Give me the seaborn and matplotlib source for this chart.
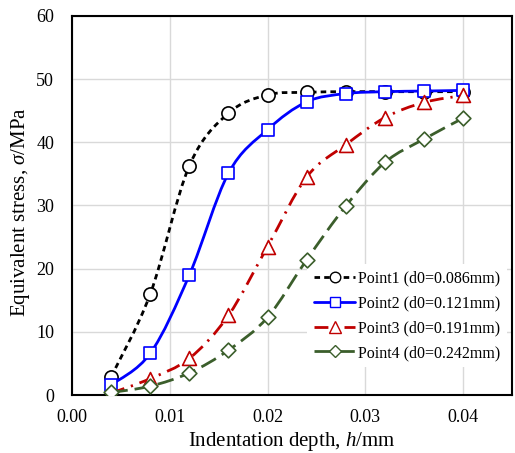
import numpy as np
import matplotlib
matplotlib.use('Agg')
import matplotlib.pyplot as plt
from matplotlib.path import Path
from matplotlib.patches import PathPatch
from matplotlib.lines import Line2D
import seaborn as sns

depth = [0.004, 0.008, 0.012, 0.016, 0.020, 0.024, 0.028, 0.032, 0.036, 0.040]
point1 = [2.9, 16.0, 36.3, 44.6, 47.5, 47.9, 48.0, 48.0, 48.0, 48.0]
point2 = [1.6, 6.6, 19.0, 35.1, 42.0, 46.4, 47.7, 48.0, 48.1, 48.2]
point3 = [0.3, 2.6, 5.8, 12.6, 23.5, 34.5, 39.6, 43.9, 46.3, 47.4]
point4 = [0.4, 1.4, 3.5, 7.1, 12.3, 21.4, 29.9, 36.8, 40.5, 43.8]
labels = ['Point1 (d0=0.086mm)', 'Point2 (d0=0.121mm)',
          'Point3 (d0=0.191mm)', 'Point4 (d0=0.242mm)']

sns.set_theme(style='whitegrid')
plt.rcParams['font.family'] = ['Liberation Serif', 'DejaVu Serif']
plt.rcParams['mathtext.fontset'] = 'custom'
plt.rcParams['mathtext.rm'] = 'Liberation Serif'
plt.rcParams['mathtext.it'] = 'Liberation Serif:italic'

def smooth_path(x, y):
    # excel-like smoothed line: cubic bezier through the points
    x = np.asarray(x); y = np.asarray(y)
    n = len(x)
    verts = [(x[0], y[0])]
    codes = [Path.MOVETO]
    for i in range(n - 1):
        i0 = max(i - 1, 0); i3 = min(i + 2, n - 1)
        c1 = (x[i] + (x[i+1] - x[i0]) / 6, y[i] + (y[i+1] - y[i0]) / 6)
        c2 = (x[i+1] - (x[i3] - x[i]) / 6, y[i+1] - (y[i3] - y[i]) / 6)
        verts += [c1, c2, (x[i+1], y[i+1])]
        codes += [Path.CURVE4] * 3
    return Path(verts, codes)

fig = plt.figure(figsize=(5.15, 4.53), dpi=100)
ax = fig.add_axes([0.14, 0.128, 0.854, 0.837])

series = [point1, point2, point3, point4]
colors = ['black', '#0000FF', '#C00000', '#3B5E2B']
markers = ['o', 's', '^', 'D']
msizes = [9.5, 9, 10, 7.5]
styles = [(0, (2, 1.5)), 'solid', (0, (5, 2.5, 0.8, 2.5)), (0, (6, 2.5))]

handles = []
for k, ys in enumerate(series):
    patch = PathPatch(smooth_path(depth, ys), facecolor='none', edgecolor=colors[k],
                      lw=2, linestyle=styles[k], zorder=2 + 2 * k)
    ax.add_patch(patch)
    sns.scatterplot(x=depth, y=ys, ax=ax, marker=markers[k], s=msizes[k] ** 2,
                    facecolor='white', edgecolor=colors[k], linewidth=1.2,
                    zorder=3 + 2 * k)
    handles.append(Line2D([], [], color=colors[k], lw=2, linestyle=styles[k],
                          marker=markers[k], markersize=msizes[k] * 0.8,
                          markerfacecolor='white', markeredgecolor=colors[k]))

ax.set_xlim(0, 0.045)
ax.set_ylim(0, 60)
ax.set_xticks([0, 0.01, 0.02, 0.03, 0.04])
ax.set_xticklabels(['0.00', '0.01', '0.02', '0.03', '0.04'])
ax.set_yticks(range(0, 61, 10))
ax.tick_params(labelsize=13, colors='black', length=0)
ax.tick_params(axis='x', pad=10)
ax.tick_params(axis='y', pad=13)
ax.grid(True, color='#D9D9D9', lw=1)
for s in ax.spines.values():
    s.set_color('black')
    s.set_linewidth(1.5)
ax.set_facecolor('white')
ax.set_xlabel('Indentation depth, $h$/mm', fontsize=15, color='black', labelpad=3)
ax.set_ylabel(r'Equivalent stress, $\sigma$/MPa', fontsize=15, color='black')
ax.yaxis.set_label_coords(-0.092, 0.483)

leg = ax.legend(handles, labels, loc='lower right', fontsize=11.5, frameon=True,
                facecolor='white', edgecolor='none', framealpha=1,
                handlelength=2.6, handletextpad=0.2, labelspacing=0.55,
                bbox_to_anchor=(1.0, 0.06), borderaxespad=0.3)
for t in leg.get_texts():
    t.set_color('black')

fig.savefig('out.png', dpi=100)
